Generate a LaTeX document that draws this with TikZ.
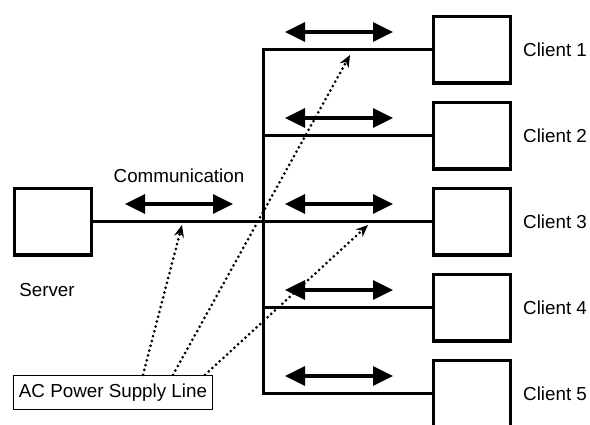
\documentclass[tikz,border=0pt]{standalone}
\usepackage{fontspec}
\setmainfont{Liberation Sans}
\usetikzlibrary{arrows.meta}
\begin{document}
\begin{tikzpicture}[x=1pt,y=-1pt,
  unit/.style={draw,line width=3.4pt,minimum width=76.6pt,minimum height=66.6pt,inner sep=0pt},
  lbl/.style={font=\fontsize{18.8}{22}\selectfont,inner sep=0pt},
  comm/.style={line width=3.2pt,{Triangle[length=20pt,width=19pt]}-{Triangle[length=20pt,width=19pt]}},
  wire/.style={line width=3pt},
  power/.style={line width=3pt,line cap=round,dash pattern=on 0pt off 5pt,
                -{Stealth[length=12pt,width=10pt]}}
]
\useasboundingbox (0,0) rectangle (590,424);

% server and its label
\node[unit] (server) at (53,221.5) {};
\node[lbl] (serverlbl) at (47,290) {Server};

% clients on the right
\foreach \i/\y in {1/49.5,2/135.5,3/221.5,4/307.5,5/393.5}{
  \node[unit] (client\i) at (472,\y) {};
  \node[lbl,anchor=west] (clientlbl\i) at (523,\y) {Client \i};
  \coordinate (tap\i) at (263,\y);
  \draw[wire] (tap\i) -- (client\i.west);
  \coordinate (ca\i) at (285,\y-17.5);
  \coordinate (cb\i) at (393,\y-17.5);
  \draw[comm] (ca\i) -- (cb\i);
}

% bus and server link
\draw[wire,line cap=rect] (tap1) -- (tap5);
\draw[wire] (server.east) -- (tap3);

% communication arrow
\coordinate (sa) at (125,204);
\coordinate (sb) at (233,204);
\draw[comm] (sa) -- (sb);
\node[lbl] (commlbl) at (179,176) {Communication};

% AC power supply line
\node[draw,line width=1.4pt,minimum width=199pt,minimum height=34pt,inner sep=0pt,
      font=\fontsize{18.8}{22}\selectfont] (ac) at (113,392.5) {AC Power Supply Line};
\coordinate (p1) at (182,225);
\coordinate (p2) at (350,55);
\coordinate (p3) at (368,225);
\draw[power] (ac.north west -| 143,0) -- (p1);
\draw[power] (ac.north west -| 173,0) -- (p2);
\draw[power] (ac.north west -| 205,0) -- (p3);
\end{tikzpicture}
\end{document}
